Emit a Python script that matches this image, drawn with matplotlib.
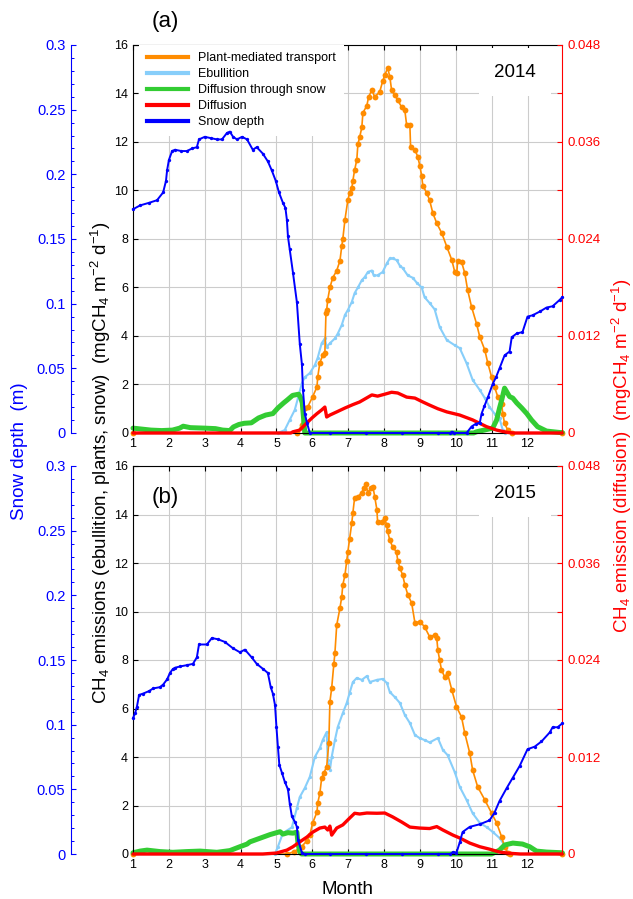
import matplotlib
matplotlib.use('Agg')
import matplotlib.pyplot as plt
from matplotlib.lines import Line2D
from matplotlib.ticker import MultipleLocator, FuncFormatter

plt.rcParams['font.family'] = ['Liberation Sans', 'DejaVu Sans']
plt.rcParams['mathtext.fontset'] = 'custom'
plt.rcParams['mathtext.rm'] = 'Liberation Sans'
plt.rcParams['mathtext.it'] = 'Liberation Sans:italic'

# ---- 2014 (panel a) ----  x in months, emissions in mgCH4 m-2 d-1, depth in m
a_plant_x = [1.0, 5.57, 5.71, 5.79, 5.87, 6.01, 6.13, 6.15, 6.21, 6.29, 6.35, 6.38, 6.40, 6.43,
             6.49, 6.57, 6.68, 6.77, 6.82, 6.85, 6.91, 6.99, 7.04, 7.10, 7.13, 7.18, 7.24, 7.27,
             7.32, 7.38, 7.41, 7.52, 7.57, 7.66, 7.74, 7.88, 7.96, 8.02, 8.10, 8.16, 8.21, 8.30,
             8.38, 8.49, 8.58, 8.63, 8.72, 8.74, 8.86, 8.94, 9.0, 9.05, 9.08, 9.19, 9.27, 9.36,
             9.47, 9.61, 9.75, 9.89, 9.97, 10.03, 10.05, 10.16, 10.25, 10.33, 10.44, 10.58,
             10.67, 10.81, 10.89, 11.0, 11.08, 11.17, 11.28, 11.31, 11.36, 11.45, 11.56, 12.97]
a_plant_y = [0, 0, 0.33, 1.03, 1.07, 1.5, 1.9, 2.3, 2.9, 3.2, 3.3, 4.95, 5.07, 5.5,
             6.0, 6.4, 6.7, 7.1, 7.7, 8.0, 8.8, 9.6, 9.9, 10.1, 10.4, 10.85, 11.26, 11.9,
             12.2, 12.6, 13.2, 13.5, 13.86, 14.14, 13.86, 14.07, 14.5, 14.76, 15.05, 14.7, 14.14, 13.94,
             13.73, 13.44, 13.3, 12.7, 12.7, 11.8, 11.67, 11.4, 11.0, 10.6, 10.2, 9.9, 9.6, 9.07,
             8.65, 8.24, 7.68, 7.13, 6.65, 6.6, 7.1, 7.06, 6.6, 5.9, 5.2, 4.5,
             3.96, 3.42, 2.9, 2.3, 1.9, 1.5, 1.2, 0.8, 0.4, 0.12, 0, 0]

a_ebul_x = [1.0, 5.04, 5.23, 5.37, 5.51, 5.60, 5.71, 5.79, 5.93, 6.07, 6.15, 6.26, 6.35, 6.40,
            6.49, 6.63, 6.71, 6.82, 6.91, 6.99, 7.10, 7.18, 7.27, 7.38, 7.46, 7.55, 7.66, 7.71,
            7.82, 7.96, 8.08, 8.16, 8.24, 8.35, 8.44, 8.52, 8.66, 8.80, 8.91, 9.05, 9.13, 9.27,
            9.41, 9.55, 9.75, 9.97, 10.11, 10.30, 10.47, 10.67, 10.81, 10.94, 11.08, 11.22,
            11.31, 11.36, 12.97]
a_ebul_y = [0, 0, 0.12, 0.54, 0.95, 1.44, 2.06, 2.3, 2.47, 2.8, 3.1, 3.7, 3.9, 3.55,
            3.7, 3.9, 4.1, 4.45, 4.87, 5.07, 5.4, 5.77, 6.0, 6.3, 6.43, 6.64, 6.7, 6.5,
            6.5, 6.64, 7.0, 7.2, 7.2, 7.13, 6.9, 6.8, 6.5, 6.4, 6.2, 6.0, 5.6, 5.36,
            5.1, 4.37, 3.83, 3.62, 3.5, 2.88, 2.19, 1.77, 1.44, 1.07, 0.8, 0.6,
            0.12, 0, 0]

a_sdiff_x = [1.0, 1.5, 1.8, 2.1, 2.3, 2.4, 2.6, 3.0, 3.3, 3.5, 3.7, 3.8, 3.95, 4.1, 4.3, 4.5,
             4.7, 4.9, 5.04, 5.2, 5.3, 5.45, 5.62, 5.68, 5.72, 5.76, 5.79, 10.5, 10.58, 11.03,
             11.14, 11.22, 11.28, 11.36, 11.42, 11.5, 11.59, 11.7, 11.84, 11.98, 12.11, 12.28,
             12.53, 12.9, 12.97]
a_sdiff_y = [0.2, 0.12, 0.1, 0.12, 0.2, 0.28, 0.22, 0.2, 0.18, 0.12, 0.1, 0.25, 0.35, 0.4, 0.42, 0.62,
             0.74, 0.8, 1.03, 1.24, 1.36, 1.55, 1.6, 1.44, 1.24, 0.54, 0, 0, 0.05, 0.2,
             0.54, 1.03, 1.36, 1.85, 1.7, 1.5, 1.44, 1.24, 1.03, 0.8, 0.54, 0.26,
             0.08, 0.02, 0.02]

a_diff_x = [1.0, 5.4, 5.46, 5.65, 5.85, 5.99, 6.13, 6.26, 6.35, 6.40, 6.49, 6.68, 6.91, 7.13,
            7.32, 7.52, 7.66, 7.82, 8.02, 8.21, 8.38, 8.63, 8.86, 9.08, 9.27, 9.5, 9.75, 10.11,
            10.47, 10.86, 11.14, 11.42, 11.6, 12.97]
a_diff_y = [0, 0, 0.00015, 0.00036, 0.00126, 0.00186, 0.0024, 0.00285, 0.00321, 0.00198, 0.00222,
            0.00261, 0.00309, 0.00351, 0.00384, 0.00435, 0.00471, 0.00456, 0.0048, 0.00504, 0.00495,
            0.00444, 0.00432, 0.00384, 0.00345, 0.003, 0.00261, 0.00222, 0.00162, 0.00078, 0.00036,
            0.00009, 0, 0]

a_depth_x = [1.0, 1.2, 1.45, 1.67, 1.84, 1.92, 1.95, 2.0, 2.09, 2.17, 2.35, 2.5, 2.65, 2.78, 2.84,
             3.0, 3.17, 3.34, 3.48, 3.62, 3.70, 3.79, 3.9, 4.04, 4.18, 4.34, 4.45, 4.62, 4.76,
             4.87, 4.98, 5.07, 5.18, 5.25, 5.29, 5.32, 5.37, 5.46, 5.57, 5.65, 5.71, 5.74, 5.79,
             5.85, 5.93, 6.5, 7.5, 8.5, 9.5, 9.85, 9.89, 9.95, 10.3, 10.44, 10.55, 10.67, 10.72,
             10.8, 10.9, 11.03, 11.12, 11.22, 11.36, 11.5, 11.56, 11.7, 11.86, 12.0, 12.14, 12.35,
             12.53, 12.7, 12.9, 12.97]
a_depth_y = [0.173, 0.176, 0.178, 0.180, 0.186, 0.195, 0.203, 0.211, 0.218, 0.219, 0.218, 0.218,
             0.220, 0.221, 0.227, 0.229, 0.228, 0.227, 0.227, 0.232, 0.233, 0.229, 0.227, 0.229,
             0.227, 0.219, 0.221, 0.216, 0.210, 0.203, 0.195, 0.186, 0.178, 0.174, 0.165, 0.152,
             0.142, 0.124, 0.101, 0.069, 0.053, 0.033, 0.015, 0.008, 0, 0, 0, 0, 0, 0, 0.001, 0,
             0, 0.005, 0.007, 0.008, 0.015, 0.021, 0.028, 0.038, 0.043, 0.050, 0.060, 0.063,
             0.074, 0.077, 0.078, 0.090, 0.091, 0.094, 0.097, 0.098, 0.103, 0.105]

# ---- 2015 (panel b) ----
b_plant_x = [1.0, 5.3, 5.5, 5.7, 5.85, 5.93, 6.01, 6.13, 6.15, 6.21, 6.26, 6.32, 6.40, 6.46,
             6.49, 6.54, 6.6, 6.63, 6.68, 6.77, 6.82, 6.85, 6.91, 6.96, 6.99, 7.04, 7.1, 7.13,
             7.18, 7.27, 7.38, 7.43, 7.49, 7.55, 7.63, 7.69, 7.74, 7.8, 7.82, 7.93, 8.02, 8.07,
             8.1, 8.16, 8.24, 8.35, 8.38, 8.44, 8.52, 8.58, 8.66, 8.77, 8.86, 9.0, 9.13, 9.27,
             9.41, 9.47, 9.5, 9.55, 9.6, 9.69, 9.77, 9.89, 10.02, 10.16, 10.25, 10.39, 10.47,
             10.61, 10.81, 11.0, 11.14, 11.28, 11.36, 11.45, 11.5, 12.97]
b_plant_y = [0, 0, 0.1, 0.3, 0.55, 0.78, 1.28, 1.73, 2.1, 2.5, 3.13, 3.34, 3.6, 4.58,
             6.27, 6.85, 7.84, 8.29, 9.44, 10.14, 10.6, 11.1, 11.5, 12.1, 12.45, 13.0, 13.65, 14.06,
             14.7, 14.73, 14.9, 15.1, 15.25, 14.9, 15.1, 15.15, 14.73, 14.2, 13.7, 13.7, 13.85, 13.57,
             13.3, 12.95, 12.66, 12.45, 12.1, 11.8, 11.5, 11.1, 10.7, 10.35, 9.54, 9.58, 9.37, 8.96,
             9.03, 8.9, 8.41, 8.0, 7.6, 7.3, 7.45, 6.76, 6.07, 5.65, 4.99, 4.16, 3.46,
             2.77, 2.23, 1.68, 1.28, 0.7, 0.29, 0.05, 0, 0]

b_ebul_x = [1.0, 4.96, 5.04, 5.18, 5.43, 5.57, 5.65, 5.79, 5.93, 6.07, 6.21, 6.29, 6.40, 6.43,
            6.49, 6.54, 6.63, 6.71, 6.85, 6.96, 7.04, 7.13, 7.24, 7.38, 7.52, 7.6, 7.8, 7.96,
            8.08, 8.16, 8.3, 8.44, 8.58, 8.72, 8.86, 8.99, 9.13, 9.27, 9.5, 9.64, 9.77, 9.97,
            10.11, 10.3, 10.47, 10.67, 10.86, 11.03, 11.22, 11.36, 11.45, 11.5, 12.97]
b_ebul_y = [0, 0, 0.3, 0.86, 1.1, 1.9, 2.35, 2.72, 3.18, 4.0, 4.37, 4.7, 5.03, 3.88,
            3.46, 4.0, 4.7, 5.24, 5.81, 6.23, 6.64, 7.09, 7.26, 7.18, 7.34, 7.09, 7.18, 7.22,
            7.05, 6.68, 6.47, 6.23, 5.73, 5.4, 4.91, 4.78, 4.7, 4.6, 4.78, 4.29, 4.08, 3.38,
            2.77, 2.23, 1.68, 1.28, 1.11, 0.91, 0.66, 0.37, 0.05, 0, 0]

b_sdiff_x = [1.0, 1.2, 1.39, 1.75, 2.11, 2.5, 2.87, 3.34, 3.7, 3.98, 4.18, 4.26, 4.54, 4.82,
             4.96, 5.1, 5.18, 5.32, 5.46, 5.57, 5.6, 5.65, 5.7, 11.0, 11.22, 11.36, 11.59,
             11.86, 12.06, 12.25, 12.53, 12.97]
b_sdiff_y = [0.05, 0.12, 0.16, 0.1, 0.07, 0.1, 0.12, 0.07, 0.14, 0.3, 0.41, 0.5, 0.65, 0.8,
             0.86, 0.92, 0.82, 0.88, 0.86, 0.9, 0.45, 0.08, 0, 0, 0.16, 0.37, 0.45,
             0.41, 0.3, 0.12, 0.08, 0.05]

b_diff_x = [1.0, 4.62, 5.0, 5.29, 5.46, 5.65, 5.85, 6.01, 6.21, 6.35, 6.43, 6.49, 6.54, 6.68,
            6.85, 7.04, 7.18, 7.32, 7.52, 7.8, 8.02, 8.24, 8.49, 8.72, 8.99, 9.27, 9.47, 9.64,
            9.92, 10.11, 10.39, 10.67, 10.94, 11.22, 11.5, 11.8, 12.97]
b_diff_y = [0, 0, 0.00012, 0.00048, 0.0009, 0.0015, 0.0021, 0.0027, 0.00321, 0.00333, 0.00297,
            0.00345, 0.00234, 0.00321, 0.0036, 0.00444, 0.00504, 0.00495, 0.00507, 0.00504,
            0.00507, 0.00459, 0.00396, 0.00333, 0.00321, 0.00315, 0.00339, 0.00297, 0.00234,
            0.00198, 0.00135, 0.0009, 0.0006, 0.00024, 0.00009, 0, 0]

b_depth_x = [1.0, 1.06, 1.11, 1.17, 1.28, 1.45, 1.56, 1.75, 1.84, 1.95, 2.03, 2.11, 2.17, 2.31,
             2.5, 2.67, 2.78, 2.84, 3.06, 3.2, 3.37, 3.56, 3.79, 3.98, 4.12, 4.31, 4.45, 4.63,
             4.76, 4.84, 4.9, 4.96, 5.0, 5.04, 5.08, 5.15, 5.23, 5.32, 5.37, 5.43, 5.51, 5.57,
             5.6, 5.71, 5.79, 6.5, 7.5, 8.5, 9.5, 9.85, 9.92, 10.02, 10.11, 10.19, 10.39, 10.67,
             10.94, 11.08, 11.22, 11.42, 11.59, 11.78, 12.0, 12.2, 12.39, 12.62, 12.7, 12.84, 12.97]
b_depth_y = [0.105, 0.109, 0.114, 0.123, 0.124, 0.126, 0.128, 0.129, 0.131, 0.135, 0.140, 0.143,
             0.144, 0.145, 0.146, 0.147, 0.152, 0.162, 0.162, 0.167, 0.166, 0.164, 0.159, 0.156,
             0.158, 0.152, 0.147, 0.143, 0.140, 0.129, 0.124, 0.115, 0.098, 0.083, 0.069, 0.063,
             0.056, 0.050, 0.039, 0.029, 0.025, 0.021, 0.011, 0.001, 0, 0, 0, 0, 0, 0, 0.0015,
             0.001, 0.009, 0.017, 0.021, 0.023, 0.026, 0.032, 0.041, 0.051, 0.059, 0.068, 0.081,
             0.083, 0.087, 0.094, 0.098, 0.098, 0.101]

months = list(range(1, 13))
legend_labels = ['Plant-mediated transport', 'Ebullition', 'Diffusion through snow',
                 'Diffusion', 'Snow depth']

C_PLANT = '#ff8c00'
C_EBUL = '#87cefa'
C_SDIFF = '#33cc33'
C_DIFF = '#ff0000'
C_DEPTH = '#0000ff'


def g_fmt(v, pos):
    return '%g' % round(v, 4)


def draw_panel(ax, plant, ebul, sdiff, diff, depth, year):
    ax.set_xlim(1, 12.97)
    ax.set_ylim(0, 16)
    ax.set_xticks(months)
    ax.set_yticks(range(0, 17, 2))
    ax.grid(True, color='#cccccc', lw=0.8)
    ax.set_axisbelow(True)
    ax.tick_params(direction='in', length=3.5, width=0.8, labelsize=9, top=True, right=False)
    ax.spines['right'].set_visible(False)

    ax.plot(ebul[0], ebul[1], color=C_EBUL, lw=1.5, marker='o', ms=2.4, mew=0, clip_on=False)
    ax.plot(plant[0], plant[1], color=C_PLANT, lw=1.2, marker='o', ms=4.2, mew=0, clip_on=False)
    ax.plot(sdiff[0], sdiff[1], color=C_SDIFF, lw=3.6, solid_capstyle='round', clip_on=False)
    ax.text(0.89, 0.93, year, transform=ax.transAxes, fontsize=13.5, ha='center', va='center',
            bbox=dict(facecolor='white', edgecolor='none', pad=11))

    # diffusion on the red right-hand axis
    axr = ax.twinx()
    axr.plot(diff[0], diff[1], color=C_DIFF, lw=2.4, solid_capstyle='round', clip_on=False)
    axr.set_ylim(0, 0.048)
    axr.yaxis.set_major_locator(MultipleLocator(0.012))
    axr.yaxis.set_minor_locator(MultipleLocator(0.006))
    axr.yaxis.set_major_formatter(FuncFormatter(g_fmt))
    axr.tick_params(axis='y', which='both', direction='in', length=3.5, width=0.8,
                    colors=C_DIFF, labelsize=9.5, pad=4)
    for s in ['left', 'top', 'bottom']:
        axr.spines[s].set_visible(False)
    axr.spines['right'].set_color(C_DIFF)

    # snow depth on the detached blue left-hand axis
    axs = ax.twinx()
    axs.plot(depth[0], depth[1], color=C_DEPTH, lw=1.4, marker='o', ms=2.4, mew=0, clip_on=False)
    axs.set_ylim(0, 0.3)
    axs.yaxis.set_ticks_position('left')
    axs.yaxis.set_label_position('left')
    axs.spines['left'].set_position(('axes', -0.1444))
    axs.spines['left'].set_visible(True)
    axs.spines['left'].set_color(C_DEPTH)
    for s in ['right', 'top', 'bottom']:
        axs.spines[s].set_visible(False)
    axs.yaxis.set_major_locator(MultipleLocator(0.05))
    axs.yaxis.set_minor_locator(MultipleLocator(0.01))
    axs.yaxis.set_major_formatter(FuncFormatter(g_fmt))
    axs.tick_params(axis='y', which='major', direction='in', length=3.5, width=0.8,
                    colors=C_DEPTH, labelsize=10.5, pad=4)
    axs.tick_params(axis='y', which='minor', direction='in', length=2.2, width=0.7, colors=C_DEPTH)
    return axs


fig = plt.figure(figsize=(6.33, 8.99), dpi=100)
W, H = 633.0, 899.0
ax_a = fig.add_axes([133 / W, 1 - 433 / H, (562.3 - 133) / W, 388 / H])
ax_b = fig.add_axes([133 / W, 1 - 854 / H, (562.3 - 133) / W, 388 / H])

draw_panel(ax_a, (a_plant_x, a_plant_y), (a_ebul_x, a_ebul_y), (a_sdiff_x, a_sdiff_y),
           (a_diff_x, a_diff_y), (a_depth_x, a_depth_y), '2014')
draw_panel(ax_b, (b_plant_x, b_plant_y), (b_ebul_x, b_ebul_y), (b_sdiff_x, b_sdiff_y),
           (b_diff_x, b_diff_y), (b_depth_x, b_depth_y), '2015')

# legend on the main axes so the snow-depth curve stays drawn above its white box
handles = [Line2D([], [], color=c, lw=3) for c in [C_PLANT, C_EBUL, C_SDIFF, C_DIFF, C_DEPTH]]
ax_a.legend(handles, legend_labels, loc='upper left', bbox_to_anchor=(0.015, 1.0),
            borderaxespad=0, fontsize=9, frameon=True, fancybox=False, framealpha=1,
            edgecolor='none', facecolor='white', handlelength=3.3, handletextpad=0.8,
            labelspacing=0.32, borderpad=0.6)

fig.text(165 / W, 1 - 22 / H, '(a)', fontsize=16, ha='center', va='center')
ax_b.text(0.075, 0.918, '(b)', transform=ax_b.transAxes, fontsize=16, ha='center', va='center')

fig.text(101 / W, 0.485, 'CH$_4$ emissions (ebullition, plants, snow)  (mgCH$_4$ m$^{-2}$ d$^{-1}$)',
         rotation=90, fontsize=13.5, ha='center', va='center')
fig.text(20 / W, 0.498, 'Snow depth  (m)', rotation=90, fontsize=13.5, ha='center', va='center',
         color=C_DEPTH)
fig.text(622 / W, 0.493, 'CH$_4$ emission (diffusion)  (mgCH$_4$ m$^{-2}$ d$^{-1}$)', rotation=90,
         fontsize=13.5, ha='center', va='center', color=C_DIFF)
fig.text(347.5 / W, 1 - 889 / H, 'Month', fontsize=13.5, ha='center', va='center')

fig.savefig('out.png', dpi=100)
